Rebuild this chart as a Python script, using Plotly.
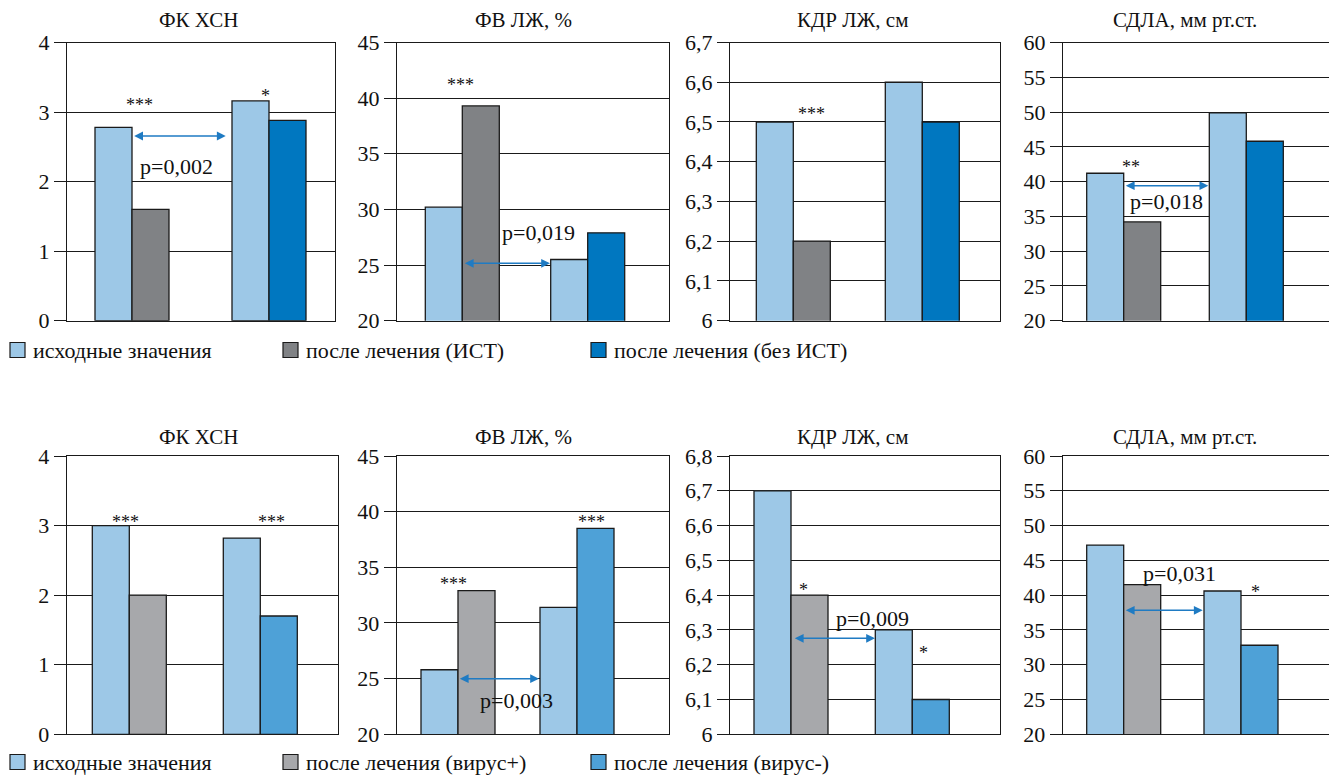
import plotly.graph_objects as go

W, H = 1329, 779

# ---------------- data ----------------
panel_titles = ["ФК ХСН", "ФВ ЛЖ, %", "КДР ЛЖ, см", "СДЛА, мм рт.ст."]

# top row (ИСТ / без ИСТ)
top_baseline_ist = [2.78, 30.2, 6.5, 41.2]      # исходные, group ИСТ
top_after_ist = [1.6, 39.3, 6.2, 34.2]          # после лечения (ИСТ)
top_baseline_noist = [3.16, 25.5, 6.6, 49.9]    # исходные, group без ИСТ
top_after_noist = [2.88, 27.9, 6.5, 45.8]       # после лечения (без ИСТ)

# bottom row (вирус+ / вирус-)
bot_baseline_vplus = [3.0, 25.8, 6.7, 47.2]
bot_after_vplus = [2.0, 32.9, 6.4, 41.5]
bot_baseline_vminus = [2.82, 31.4, 6.3, 40.6]
bot_after_vminus = [1.7, 38.5, 6.1, 32.8]

top_yranges = [(0, 4, 1), (20, 45, 5), (6, 6.7, 0.1), (20, 60, 5)]
bot_yranges = [(0, 4, 1), (20, 45, 5), (6, 6.8, 0.1), (20, 60, 5)]

legend_top = ["исходные значения", "после лечения (ИСТ)", "после лечения (без ИСТ)"]
legend_bot = ["исходные значения", "после лечения (вирус+)", "после лечения (вирус-)"]

top_stars = ["***", "*", "***", "***", "**"]
bot_stars = ["***", "***", "***", "***", "*", "*", "*"]
top_p = ["p=0,002", "p=0,019", "p=0,018"]
bot_p = ["p=0,003", "p=0,009", "p=0,031"]

# ---------------- style ----------------
C_BASE = "#9DC8E7"
top_colors = [C_BASE, "#808285", "#0077C0"]
bot_colors = [C_BASE, "#A7A8AB", "#4EA1D7"]
ARROW = "#1F7BC3"
FONT = "Liberation Serif, Times New Roman, serif"

# panel geometry in pixels: (left, right, group0 centre, group spacing)
top_geom = [(67, 335, 132, 137), (397, 669, 462.3, 125.4), (730, 1000, 793.3, 129), (1063, 1329, 1123.7, 122.6)]
bot_geom = [(66.7, 338, 129.3, 131), (396.7, 669, 458, 119), (730, 1000, 791, 121.3), (1062.7, 1329, 1123.7, 117.3)]
top_ypx = (42.5, 320.7)
bot_ypx = (456, 734.3)
BAR_PX = 37


def px(x, y):
    return x / W, 1 - y / H


fig = go.Figure()
layout_axes = {}

rows = [
    (top_geom, top_ypx, top_yranges, top_colors,
     top_baseline_ist, top_after_ist, top_baseline_noist, top_after_noist),
    (bot_geom, bot_ypx, bot_yranges, bot_colors,
     bot_baseline_vplus, bot_after_vplus, bot_baseline_vminus, bot_after_vminus),
]

k = 0
for geom, ypx, yranges, colors, b0, a0, b1, a1 in rows:
    for i in range(4):
        k += 1
        L, R, c0, s = geom[i]
        w = BAR_PX / s
        xa = "x" if k == 1 else f"x{k}"
        ya = "y" if k == 1 else f"y{k}"
        line = dict(color="#1a1a1a", width=1.3)
        fig.add_trace(go.Bar(x=[0, 1], y=[b0[i], b1[i]], offset=-w, width=w,
                             marker=dict(color=colors[0], line=line),
                             xaxis=xa, yaxis=ya, showlegend=False))
        fig.add_trace(go.Bar(x=[0], y=[a0[i]], offset=0, width=w,
                             marker=dict(color=colors[1], line=line),
                             xaxis=xa, yaxis=ya, showlegend=False))
        fig.add_trace(go.Bar(x=[1], y=[a1[i]], offset=0, width=w,
                             marker=dict(color=colors[2], line=line),
                             xaxis=xa, yaxis=ya, showlegend=False))
        ymin, ymax, dt = yranges[i]
        xkey = "xaxis" if k == 1 else f"xaxis{k}"
        ykey = "yaxis" if k == 1 else f"yaxis{k}"
        layout_axes[xkey] = dict(
            domain=[L / W, R / W], anchor=ya,
            range=[(L - c0) / s, (R - c0) / s],
            showgrid=False, zeroline=False, showticklabels=False, ticks="",
            showline=True, linecolor="#1a1a1a", linewidth=1.3, mirror=True,
            fixedrange=True,
        )
        layout_axes[ykey] = dict(
            domain=[1 - ypx[1] / H, 1 - ypx[0] / H], anchor=xa,
            range=[ymin, ymax], dtick=dt, tick0=ymin,
            showgrid=True, gridcolor="#1a1a1a", gridwidth=1.2, zeroline=False,
            showline=True, linecolor="#1a1a1a", linewidth=1.3, mirror=True,
            ticks="outside", ticklen=12, tickcolor="#1a1a1a", tickwidth=1.2,
            tickfont=dict(family=FONT, size=22, color="#111"),
            fixedrange=True,
        )

annotations = []
shapes = []

# titles
title_x = [198, 523, 852, 1185]
for ty in (20, 437):
    for t, tx in zip(panel_titles, title_x):
        x, y = px(tx, ty)
        annotations.append(dict(text=t, x=x, y=y, xref="paper", yref="paper",
                                xanchor="center", yanchor="middle", showarrow=False,
                                font=dict(family=FONT, size=21, color="#111")))

# stars
star_pos_top = [(139, 100), (265.7, 90.7), (460.7, 80), (811, 109.3), (1130.7, 161.7)]
star_pos_bot = [(125.7, 517.3), (271.7, 517.3), (453.3, 579), (591.7, 517.3),
                (803.3, 585), (923.3, 648.3), (1255, 586.7)]
for txt, (sx, sy) in list(zip(top_stars, star_pos_top)) + list(zip(bot_stars, star_pos_bot)):
    x, y = px(sx, sy + 5)
    annotations.append(dict(text=txt, x=x, y=y, xref="paper", yref="paper",
                            xanchor="center", yanchor="middle", showarrow=False,
                            font=dict(family=FONT, size=18, color="#111")))

# p-values
p_pos_top = [(176.7, 166.7), (538.3, 232.3), (1166.7, 201.7)]
p_pos_bot = [(516, 700), (872.3, 618.3), (1179, 573.3)]
for txt, (sx, sy) in list(zip(top_p, p_pos_top)) + list(zip(bot_p, p_pos_bot)):
    x, y = px(sx, sy)
    annotations.append(dict(text=txt, x=x, y=y, xref="paper", yref="paper",
                            xanchor="center", yanchor="middle", showarrow=False,
                            font=dict(family=FONT, size=22, color="#111")))

# double arrows
arrows = [(132.7, 225.7, 136), (463.3, 550, 263.3), (1124.3, 1208.3, 185.7),
          (458.3, 539, 678.7), (793.3, 875, 638.3), (1124.3, 1202.7, 610.3)]
for x1, x2, ay_ in arrows:
    x, y = px(x2, ay_)
    annotations.append(dict(text="", x=x, y=y, xref="paper", yref="paper",
                            ax=x1 - x2, ay=0, axref="pixel", ayref="pixel",
                            showarrow=True, arrowside="end+start", arrowhead=2,
                            startarrowhead=2, arrowsize=1.1, startarrowsize=1.1,
                            arrowwidth=1.6, arrowcolor=ARROW, standoff=0, startstandoff=0))

# manual legends
sq_left = [10, 283, 591]
txt_left = [31, 304, 612]
SQ = 15
for ly, labels, colors in ((350, legend_top, top_colors), (762, legend_bot, bot_colors)):
    for lab, col, sl, tl in zip(labels, colors, sq_left, txt_left):
        x0, y0 = px(sl, ly - SQ / 2)
        x1, y1 = px(sl + SQ, ly + SQ / 2)
        shapes.append(dict(type="rect", xref="paper", yref="paper", x0=x0, x1=x1,
                           y0=y1, y1=y0, fillcolor=col,
                           line=dict(color="#1a1a1a", width=1.2)))
        x, y = px(tl, ly)
        annotations.append(dict(text=lab, x=x, y=y, xref="paper", yref="paper",
                                xanchor="left", yanchor="middle", showarrow=False,
                                font=dict(family=FONT, size=22, color="#111")))

fig.update_layout(
    width=W, height=H,
    margin=dict(l=0, r=0, t=0, b=0, autoexpand=False),
    paper_bgcolor="white", plot_bgcolor="white",
    barmode="overlay", separators=", ",
    annotations=annotations, shapes=shapes,
    showlegend=False,
    **layout_axes,
)

fig.write_html("out.html", config={"displayModeBar": False},
               post_script="document.body.style.margin='0';document.body.style.padding='0';")
